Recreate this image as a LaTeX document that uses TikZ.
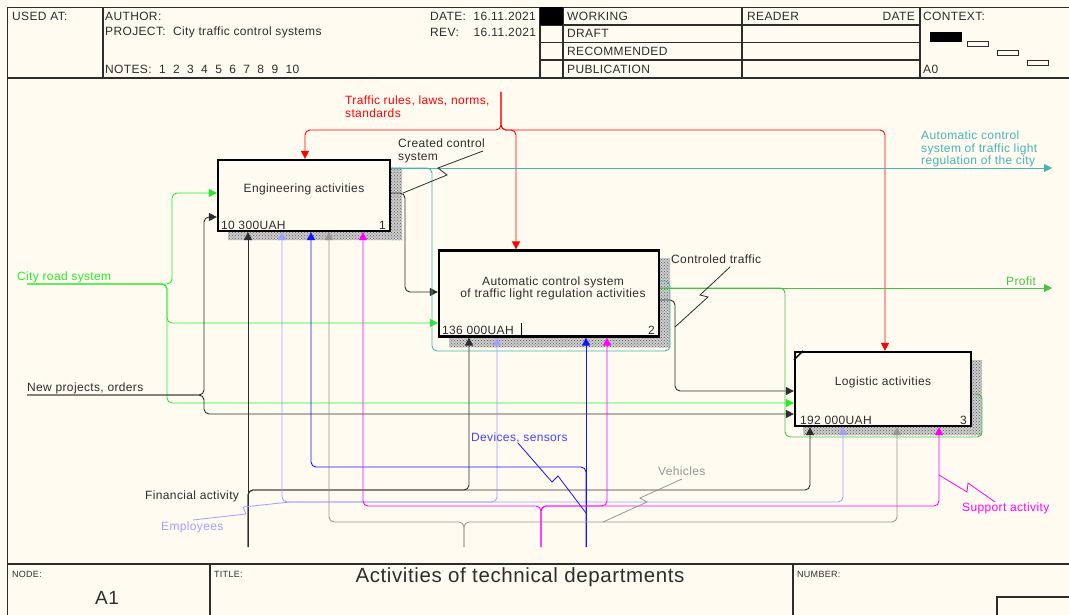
\documentclass[tikz,border=0pt]{standalone}
\usepackage{fontspec}
\setmainfont{Liberation Sans}
\newfontfamily\lab[LetterSpace=3]{Liberation Sans}
\usetikzlibrary{arrows.meta,patterns,calc}
\definecolor{bg}{RGB}{255,251,241}
\definecolor{ink}{RGB}{45,45,45}
\definecolor{cgreen}{RGB}{40,235,40}
\definecolor{pgreen}{RGB}{70,195,70}
\definecolor{cteal}{RGB}{70,180,180}
\definecolor{lav}{RGB}{160,160,255}
\definecolor{blu}{RGB}{20,20,255}
\definecolor{gry}{RGB}{150,150,150}
\definecolor{mag}{RGB}{255,0,255}
\definecolor{rd}{RGB}{255,0,0}
\tikzset{
  every node/.style={inner sep=0pt, font=\lab\fontsize{12}{12.5}\selectfont, text=ink},
  box/.style={draw=black, line width=2.2pt, fill=bg},
  shadowbase/.style={fill=gray!40},
  shadow/.style={pattern=crosshatch dots, pattern color=black!65},
  con/.style={line width=0.9pt, rounded corners=5pt},
  tip/.style={-{Triangle[length=8pt,width=8pt]}},
  leader/.style={line width=0.8pt},
  hdr/.style={draw=ink, line width=1.2pt},
  lbl/.style={anchor=west},
  mlbl/.style={anchor=north west, align=left},
  small/.style={font=\lab\fontsize{9}{10}\selectfont},
}
\begin{document}
\begin{tikzpicture}[x=1pt,y=-1pt]
\useasboundingbox (0,0) rectangle (1069,615);
\fill[bg] (0,0) rectangle (1069,615);

% ---------- header ----------
\draw[hdr] (7.5,7.5) -- (1069,7.5);
\draw[hdr] (7.5,78) -- (1069,78);
\draw[hdr] (7.5,7.5) -- (7.5,615);
\foreach \xx in {103,540,563,742,920} \draw[hdr] (\xx,7.5) -- (\xx,78);
\foreach \yy in {25,42.5,60} \draw[hdr] (540,\yy) -- (920,\yy);
\fill[black] (540,7.5) rectangle (563,25);
\node[lbl] (usedat) at (12,16) {USED AT:};
\node[lbl] (author) at (105,16) {AUTHOR:};
\node[lbl] (project) at (105,32) {PROJECT:\ \ City traffic control systems};
\node[lbl] (notes) at (105,69) {NOTES:\ \ 1\ \ 2\ \ 3\ \ 4\ \ 5\ \ 6\ \ 7\ \ 8\ \ 9\ \ 10};
\node[lbl] (date) at (430,16) {DATE:\ \ 16.11.2021};
\node[lbl] (rev) at (430,32) {REV:\ \ \ \ 16.11.2021};
\node[lbl] (working) at (567,16) {WORKING};
\node[lbl] (draft) at (567,33.5) {DRAFT};
\node[lbl] (recom) at (567,51) {RECOMMENDED};
\node[lbl] (publ) at (567,69) {PUBLICATION};
\node[lbl] (reader) at (747,16) {READER};
\node[anchor=east] (rdate) at (915,16) {DATE};
\node[lbl] (context) at (923,16) {CONTEXT:};
\node[lbl] (a0) at (923,69) {A0};
\fill[black] (930,32) rectangle (962,42);
\draw[ink, line width=0.9pt] (967,41) rectangle (988,46);
\draw[ink, line width=0.9pt] (997,50) rectangle (1018,55);
\draw[ink, line width=0.9pt] (1027,60) rectangle (1048,65);

% ---------- bottom block ----------
\draw[hdr] (7.5,564) -- (1069,564);
\draw[hdr] (210,564) -- (210,615);
\draw[hdr] (793,564) -- (793,615);
\draw[hdr] (997,597) rectangle (1072,618);
\node[lbl,small] (nodel) at (12,574) {NODE:};
\node[lbl,small] (titlel) at (214,574) {TITLE:};
\node[lbl,small] (numberl) at (797,574) {NUMBER:};
\node[font=\lab\fontsize{19}{20}\selectfont] (a1) at (107,598) {A1};
\node[font=\lab\fontsize{20.5}{22}\selectfont] (title) at (520,577) {Activities of technical departments};

% ---------- shadows ----------
\foreach \ra/\rb in {{390,168}/{402,240}, {228,231}/{402,240}, {659,258}/{670,347}, {449,336}/{670,347}, {971,360}/{982,435}, {803,426}/{982,435}} {
  \fill[shadowbase] (\ra) rectangle (\rb);
  \fill[shadow] (\ra) rectangle (\rb);
}

% ---------- boxes ----------
\node[box, minimum width=172pt, minimum height=71pt] (b1) at (304,195.5) {};
\node[box, minimum width=220pt, minimum height=86pt] (b2) at (549,293.5) {};
\node[box, minimum width=176pt, minimum height=74pt] (b3) at (883,389) {};
\node (t1) at ($(b1.center)+(0,-6)$) {Engineering activities};
\node[align=center] (t2) at ($(b2.center)+(4,-5)$) {Automatic control system\\ of traffic light regulation activities};
\node (t3) at ($(b3.center)+(0,-7)$) {Logistic activities};
\node[anchor=south west] (c1) at ($(b1.south west)+(4,-2.5)$) {10 300UAH};
\node[anchor=south east] (n1) at ($(b1.south east)+(-5,-2.5)$) {1};
\node[anchor=south west] (c2) at ($(b2.south west)+(4,-2.5)$) {136 000UAH};
\node[anchor=south east] (n2) at ($(b2.south east)+(-5,-2.5)$) {2};
\node[anchor=south west] (c3) at ($(b3.south west)+(6,-2.5)$) {192 000UAH};
\node[anchor=south east] (n3) at ($(b3.south east)+(-5,-2.5)$) {3};
\draw[black, line width=1pt] (521,323) -- (521,0 |- b2.south);
\draw[black, line width=1.4pt] ($(b3.north west)+(0,9)$) -- ($(b3.north west)+(9,0)$);

% ---------- coordinates ----------
\coordinate (srcRed) at (501,92);
\coordinate (srcCity) at (27,284);
\coordinate (srcNew) at (27,395);
\coordinate (srcFin) at (248,547);
\coordinate (srcEmp) at (290,502);
\coordinate (srcDev) at (586,547);
\coordinate (srcVeh) at (464,547);
\coordinate (srcSup) at (541,547);
\coordinate (outCity) at (1052,168);
\coordinate (outProfit) at (1052,288);

% ---------- controls ----------
\draw[con,rd,tip] (srcRed) -- (501,130) -- (305,130) -- (305,0 |- b1.north);
\draw[con,rd,tip] (srcRed) -- (501,130) -- (516,130) -- (516,0 |- b2.north);
\draw[con,rd,tip] (srcRed) -- (501,130) -- (885,130) -- (885,0 |- b3.north);

% ---------- inputs ----------
\draw[con,cgreen,tip] (srcCity) -- (172,284) -- (172,193) -- (b1.west |- 0,193);
\draw[con,cgreen,tip] (srcCity) -- (167,284) -- (167,323) -- (b2.west |- 0,323);
\draw[con,cgreen,tip] (srcCity) -- (167,284) -- (167,403) -- (b3.west |- 0,403);
\draw[con,ink,tip] (srcNew) -- (204,395) -- (204,217) -- (b1.west |- 0,217);
\draw[con,ink,tip] (srcNew) -- (204,395) -- (204,414) -- (b3.west |- 0,414);

% ---------- box to box ----------
\draw[con,ink,tip] (b1.east |- 0,193) -- (405,193) -- (405,292) -- (b2.west |- 0,292);
\draw[con,ink,tip] (b2.east |- 0,300) -- (675,300) -- (675,391) -- (b3.west |- 0,391);

% ---------- outputs ----------
\draw[con,cteal,tip] (b1.east |- 0,168) -- (outCity);
\draw[con,cteal] (b1.east |- 0,168) -- (432,168) -- (432,351) -- (670,351) -- (670,281) -- (b2.east |- 0,281);
\draw[con,pgreen,tip] (b2.east |- 0,288) -- (outProfit);
\draw[con,pgreen] (b2.east |- 0,288) -- (785,288) -- (785,437) -- (982,437) -- (982,394) -- (b3.east |- 0,394);

% ---------- mechanisms ----------
\draw[con,ink,tip] (srcFin) -- (srcFin |- b1.south);
\draw[con,ink,tip] (srcFin) -- (248,490) -- (469,490) -- (469,0 |- b2.south);
\draw[con,ink,tip] (srcFin) -- (248,490) -- (810,490) -- (810,0 |- b3.south);
\draw[con,lav,tip] (srcEmp) -- (282,502) -- (282,0 |- b1.south);
\draw[con,lav,tip] (srcEmp) -- (497,502) -- (497,0 |- b2.south);
\draw[con,lav,tip] (srcEmp) -- (843,502) -- (843,0 |- b3.south);
\draw[con,blu,tip] (srcDev) -- (586,467) -- (311,467) -- (311,0 |- b1.south);
\draw[con,blu,tip] (srcDev) -- (srcDev |- b2.south);
\draw[con,gry,tip] (srcVeh) -- (464,522) -- (329,522) -- (329,0 |- b1.south);
\draw[con,gry,tip] (srcVeh) -- (464,522) -- (897,522) -- (897,0 |- b3.south);
\draw[con,mag,tip] (srcSup) -- (541,506) -- (363,506) -- (363,0 |- b1.south);
\draw[con,mag,tip] (srcSup) -- (541,506) -- (607,506) -- (607,0 |- b2.south);
\draw[con,mag,tip] (srcSup) -- (541,506) -- (939,506) -- (939,0 |- b3.south);

% ---------- labels ----------
\node[mlbl, text=rd] (lrules) at (345,96) {Traffic rules, laws, norms,\\standards};
\node[mlbl] (lcreated) at (398,139) {Created control\\system};
\node[mlbl, text=cteal] (lauto) at (921,131) {Automatic control\\system of traffic light\\regulation of the city};
\node[lbl] (lctrl) at (671,259) {Controled traffic};
\node[lbl, text=pgreen] (lprofit) at (1006,281) {Profit};
\node[lbl, text=cgreen] (lcity) at (17,277) {City road system};
\node[lbl] (lnew) at (27,388) {New projects, orders};
\node[lbl, text=blu!80!white] (ldev) at (471,438) {Devices, sensors};
\node[lbl, text=gry] (lveh) at (658,471) {Vehicles};
\node[lbl] (lfin) at (145,496) {Financial activity};
\node[lbl, text=lav] (lemp) at (161,527) {Employees};
\node[lbl, text=mag] (lsup) at (962,508) {Support activity};

% ---------- leaders ----------
\draw[leader,ink] (483,151) -- (438,168) -- (447,175) -- (403,193);
\draw[leader,ink] (730,267) -- (700,295) -- (708,297) -- (675,327);
\draw[leader,lav] (193,520) -- (246,514) -- (243,507) -- (srcEmp);
\draw[leader,blu] (518,443) -- (552,482) -- (558,476) -- (586,513);
\draw[leader,gry] (682,479) -- (640,498) -- (647,502) -- (603,522);
\draw[leader,mag] (995,502) -- (968,483) -- (967,492) -- (939,475);
\end{tikzpicture}
\end{document}
